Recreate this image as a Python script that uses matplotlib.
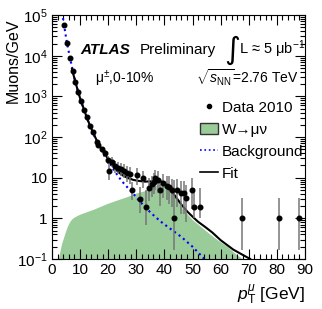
import matplotlib
matplotlib.use("Agg")
import matplotlib.pyplot as plt
from matplotlib.lines import Line2D
from matplotlib.patches import Patch
from matplotlib.ticker import FixedLocator, FixedFormatter, MultipleLocator, LogLocator, NullFormatter

plt.rcParams['font.family'] = ['Liberation Sans', 'DejaVu Sans']
plt.rcParams['mathtext.fontset'] = 'custom'
plt.rcParams['mathtext.rm'] = 'Liberation Sans'
plt.rcParams['mathtext.it'] = 'Liberation Sans:italic'
plt.rcParams['mathtext.bf'] = 'Liberation Sans:bold'

# data points (pT in GeV, muons/GeV)
pt_data = [4.3, 5.3, 6.4, 7.4, 8.3, 9.3, 10.3, 11.4, 12.3, 13.4,
           14.5, 15.9, 16.5, 17.7, 18.9, 20.0, 20.4, 21.2, 22.4, 23.4,
           24.5, 25.6, 26.6, 27.6, 28.3, 30.1, 31.3, 32.5, 33.3, 34.6,
           35.5, 36.3, 36.8, 37.6, 38.4, 39.4, 40.8, 41.6, 42.6, 43.5,
           44.6, 45.9, 46.8, 47.7, 49.7, 50.6, 52.8, 67.6, 80.8, 87.8]
mu_data = [56000, 21000, 9000, 4200, 2200, 1260, 760, 470, 310, 190,
           130, 75, 62, 51, 40, 28, 15, 24, 19, 17,
           16, 15, 13, 12, 5.0, 11.5, 3.0, 10, 1.9, 5.6,
           6.8, 8.0, 9.6, 8.7, 5.0, 7.2, 6.3, 5.8, 4.9, 1.0,
           4.9, 4.1, 4.1, 3.1, 4.9, 1.9, 1.9, 1.0, 1.0, 1.0]
err_up = [2500, 1000, 400, 200, 110, 70, 45, 30, 22, 16,
          12, 9, 8, 7, 7, 7, 8, 8, 7, 7,
          7, 7, 6, 6, 3, 6, 2.9, 5, 3.0, 4,
          4.5, 5, 6, 5.5, 4, 5, 5, 5, 4.5, 7.7,
          4.5, 4, 4, 3.5, 5, 3.6, 3.6, 2.1, 2.1, 2.1]
err_dn = [2500, 1000, 400, 200, 110, 70, 45, 30, 22, 16,
          12, 9, 8, 7, 7, 6, 6, 6, 6, 5,
          5, 5, 5, 5, 2.2, 5, 1.65, 4.5, 1.2, 3,
          3.5, 4, 4.5, 4.5, 3, 4, 3.5, 3.5, 3, 0.83,
          3, 2.8, 2.8, 2.3, 3.2, 0.9, 0.9, 0.83, 0.83, 0.83]

# W -> mu nu template
pt_w = [2.25, 2.6, 3, 3.5, 4, 4.5, 5, 5.5, 6, 6.5, 7, 7.6, 8.2, 9, 10, 12.3, 15, 19.5, 23, 26.6, 30, 33, 35,
        37, 38.5, 40, 42, 44, 46, 48, 50, 53, 56, 59, 62.5, 65, 67.8]
mu_w = [0.1, 0.13, 0.18, 0.25, 0.32, 0.41, 0.52, 0.64, 0.76, 0.87, 0.96, 1.04, 1.1, 1.18, 1.27, 1.45, 1.7, 2.3,
        2.8, 3.4, 4.2, 4.8, 5.6, 6.6, 7.2, 7.0, 5.0, 3.2, 1.9, 1.3, 0.92, 0.62, 0.42, 0.29, 0.2, 0.14, 0.1]

# background
pt_bg = [3.6, 4.3, 5.3, 6.4, 7.4, 8.3, 9.3, 10.3, 11.4, 12.3, 13.4, 14.5, 16, 17.5, 19, 20.5,
         22, 23.5, 25, 27, 29, 31, 33, 35, 37, 39, 42, 46, 50, 54.2]
mu_bg = [1.15e5, 5.6e4, 2.1e4, 9000, 4300, 2300, 1300, 770, 470, 310, 195, 130, 76, 47, 31, 23,
         15.5, 11, 8, 5.6, 4.0, 2.7, 1.95, 1.4, 1.05, 0.8, 0.56, 0.35, 0.2, 0.1]

# fit
pt_fit = [7.1, 8.3, 9.3, 10.3, 11.4, 12.3, 13.4, 14.5, 16, 17.5, 19, 20.5, 22, 23.5, 25, 27, 29,
          31, 33, 35, 37, 38.5, 40, 42, 44, 46, 48, 50, 52, 54.4, 57, 60, 64.5, 67.5, 70.5]
mu_fit = [4700, 2300, 1300, 770, 475, 315, 200, 135, 80, 52, 36, 26, 18, 14, 11.5, 9.8, 8.8,
          8.3, 8.0, 8.1, 8.4, 8.3, 7.4, 5.3, 3.4, 2.2, 1.5, 1.1, 0.82, 0.62, 0.45, 0.29, 0.17, 0.13, 0.1]

fig = plt.figure(figsize=(3.22, 3.09), dpi=100)
ax = fig.add_axes([0.1615, 0.162, 0.7855, 0.789])

ax.fill_between(pt_w, 0.01, mu_w, color='#99cc99', lw=0)
ax.plot(pt_bg, mu_bg, ':', color='#0000ff', lw=1.5)
ax.plot(pt_fit, mu_fit, '-', color='black', lw=1.5)
ax.errorbar(pt_data, mu_data, yerr=[err_dn, err_up], fmt='o', color='black', ms=3.3,
            ecolor='#777777', elinewidth=1.1, capsize=0)

ax.set_yscale('log')
ax.set_xlim(0, 90)
ax.set_ylim(0.1, 1e5)

ax.xaxis.set_major_locator(MultipleLocator(10))
ax.xaxis.set_minor_locator(MultipleLocator(2))
ax.yaxis.set_major_locator(FixedLocator([0.1, 1, 10, 100, 1e3, 1e4, 1e5]))
ax.yaxis.set_major_formatter(FixedFormatter(['$10^{-1}$', '1', '10', '$10^{2}$', '$10^{3}$', '$10^{4}$', '$10^{5}$']))
ax.yaxis.set_minor_locator(LogLocator(base=10, subs=range(2, 10)))
ax.yaxis.set_minor_formatter(NullFormatter())
ax.tick_params(which='both', direction='in', top=True, right=True, labelsize=11, pad=3)
ax.tick_params(which='major', length=7, width=0.8)
ax.tick_params(which='minor', length=3.5, width=0.8)

ax.set_ylabel('Muons/GeV', fontsize=11.5, ha='right')
ax.yaxis.set_label_coords(-0.125, 0.985)
ax.set_xlabel('$p_{\\mathrm{T}}^{\\mu}$ [GeV]', loc='right', fontsize=12.5)

ax.text(0.11, 0.84, 'ATLAS', transform=ax.transAxes, fontsize=11, fontweight='bold', style='italic')
ax.text(0.345, 0.84, 'Preliminary', transform=ax.transAxes, fontsize=11)
ax.text(0.68, 0.82, '∫', transform=ax.transAxes, fontsize=22, family=['DejaVu Sans'])
ax.text(0.74, 0.84, 'L ≈ 5 μb$^{-1}$', transform=ax.transAxes, fontsize=10.5)
ax.text(0.17, 0.72, 'μ$^{\\pm}$,0-10%', transform=ax.transAxes, fontsize=10)
ax.text(0.975, 0.72, '$\\sqrt{s_{\\mathrm{NN}}}$=2.76 TeV', transform=ax.transAxes, fontsize=10, ha='right')

handles = [Line2D([], [], marker='o', color='black', ls='none', ms=3),
           Patch(facecolor='#99cc99', edgecolor='#333333'),
           Line2D([], [], ls=':', color='#0000ff', lw=1.2),
           Line2D([], [], ls='-', color='black', lw=1.2)]
labels = ['Data 2010', 'W→μν', 'Background', 'Fit']
ax.legend(handles, labels, loc='upper left', bbox_to_anchor=(0.555, 0.68), frameon=False,
          fontsize=11, handlelength=1.2, handletextpad=0.25, labelspacing=0.52, borderpad=0)

fig.savefig('out.png', dpi=100)
